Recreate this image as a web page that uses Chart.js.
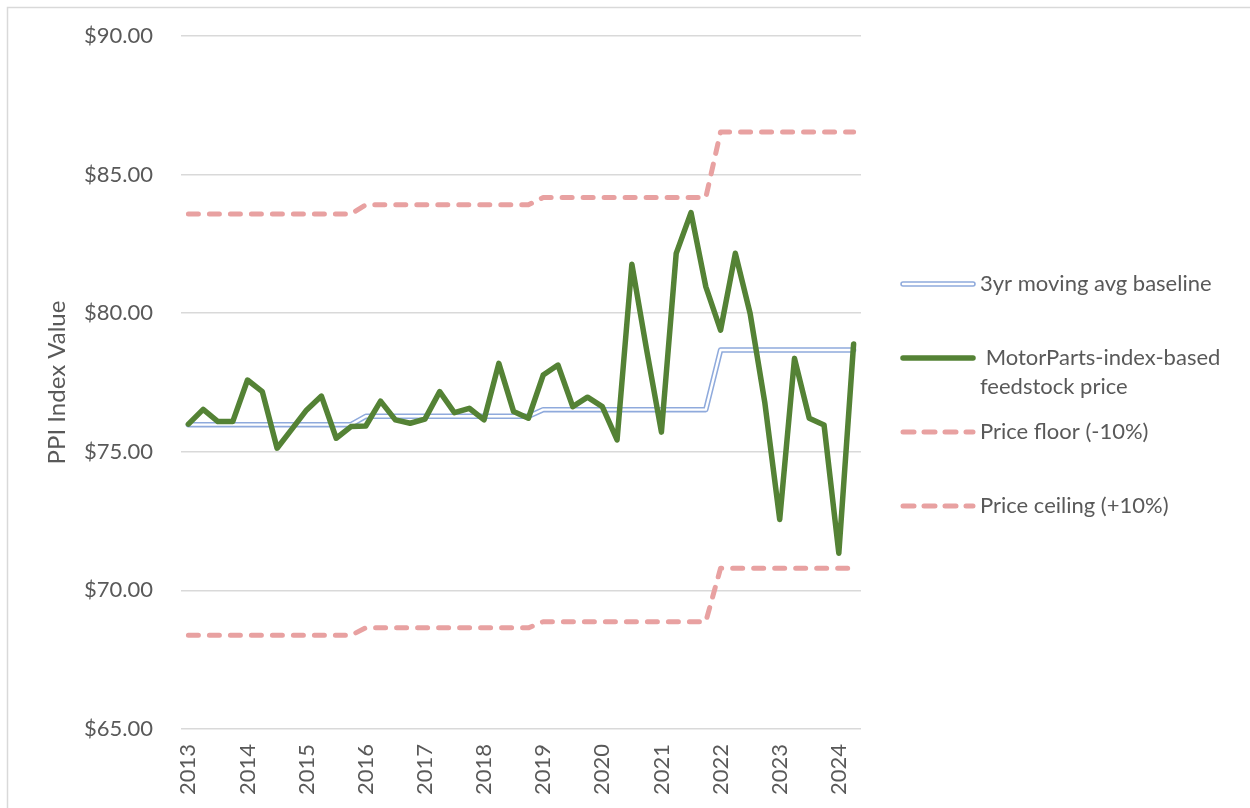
<!DOCTYPE html>
<html>
<head>
<meta charset="utf-8">
<script src="https://cdn.jsdelivr.net/npm/chart.js@4.4.1/dist/chart.umd.min.js"></script>
<style>
  html, body { margin: 0; padding: 0; background: #ffffff; }
  #wrap { position: relative; width: 1250px; height: 808px; }
  canvas { display: block; }
</style>
</head>
<body>
<div id="wrap"><canvas id="chart" width="1250" height="808"></canvas></div>
<script>
// Quarterly observations, 2013 Q1 – 2024 Q2
const quarters = [
  '2013 Q1','2013 Q2','2013 Q3','2013 Q4',
  '2014 Q1','2014 Q2','2014 Q3','2014 Q4',
  '2015 Q1','2015 Q2','2015 Q3','2015 Q4',
  '2016 Q1','2016 Q2','2016 Q3','2016 Q4',
  '2017 Q1','2017 Q2','2017 Q3','2017 Q4',
  '2018 Q1','2018 Q2','2018 Q3','2018 Q4',
  '2019 Q1','2019 Q2','2019 Q3','2019 Q4',
  '2020 Q1','2020 Q2','2020 Q3','2020 Q4',
  '2021 Q1','2021 Q2','2021 Q3','2021 Q4',
  '2022 Q1','2022 Q2','2022 Q3','2022 Q4',
  '2023 Q1','2023 Q2','2023 Q3','2023 Q4',
  '2024 Q1','2024 Q2'
];

// Year labels shown on the category axis (one per first quarter)
const yearTicks = ['2013','2014','2015','2016','2017','2018','2019','2020','2021','2022','2023','2024'];

// Value axis ticks
const yTicks = [65, 70, 75, 80, 85, 90];

// MotorParts-index-based feedstock price
const feedstockPrice = [
  76.00, 76.53, 76.09, 76.09,
  77.59, 77.17, 75.13, 75.82,
  76.51, 77.01, 75.49, 75.91,
  75.93, 76.83, 76.15, 76.03,
  76.18, 77.17, 76.41, 76.57,
  76.15, 78.19, 76.45, 76.21,
  77.77, 78.13, 76.63, 76.97,
  76.63, 75.43, 81.77, 78.67,
  75.71, 82.16, 83.63, 80.96,
  79.39, 82.16, 79.99, 76.75,
  72.56, 78.37, 76.21, 75.97,
  71.34, 78.89
];

// 3-year moving average baseline
const movingAvgBaseline = [
  75.98, 75.98, 75.98, 75.98, 75.98, 75.98, 75.98, 75.98, 75.98, 75.98, 75.98, 75.98,
  76.28, 76.28, 76.28, 76.28, 76.28, 76.28, 76.28, 76.28, 76.28, 76.28, 76.28, 76.28,
  76.52, 76.52, 76.52, 76.52, 76.52, 76.52, 76.52, 76.52, 76.52, 76.52, 76.52, 76.52,
  78.67, 78.67, 78.67, 78.67, 78.67, 78.67, 78.67, 78.67, 78.67, 78.67
];

// Price floor (-10%)
const priceFloor = [
  68.38, 68.38, 68.38, 68.38, 68.38, 68.38, 68.38, 68.38, 68.38, 68.38, 68.38, 68.38,
  68.65, 68.65, 68.65, 68.65, 68.65, 68.65, 68.65, 68.65, 68.65, 68.65, 68.65, 68.65,
  68.87, 68.87, 68.87, 68.87, 68.87, 68.87, 68.87, 68.87, 68.87, 68.87, 68.87, 68.87,
  70.80, 70.80, 70.80, 70.80, 70.80, 70.80, 70.80, 70.80, 70.80, 70.80
];

// Price ceiling (+10%)
const priceCeiling = [
  83.58, 83.58, 83.58, 83.58, 83.58, 83.58, 83.58, 83.58, 83.58, 83.58, 83.58, 83.58,
  83.91, 83.91, 83.91, 83.91, 83.91, 83.91, 83.91, 83.91, 83.91, 83.91, 83.91, 83.91,
  84.17, 84.17, 84.17, 84.17, 84.17, 84.17, 84.17, 84.17, 84.17, 84.17, 84.17, 84.17,
  86.54, 86.54, 86.54, 86.54, 86.54, 86.54, 86.54, 86.54, 86.54, 86.54
];

const TEXT = '#595959';
const GRID = '#D9D9D9';
const GREEN = '#548235';
const BLUE = '#8FAADC';
const PINK = '#E8A1A1';
const FONT = 'Lato';

// Outer frame of the chart area (only the top and left edges fall on the canvas)
const framePlugin = {
  id: 'frame',
  beforeDraw(chart) {
    const ctx = chart.ctx;
    ctx.save();
    ctx.strokeStyle = GRID;
    ctx.lineWidth = 1.5;
    ctx.strokeRect(7.5, 7.5, 2000, 2000);
    ctx.restore();
  }
};

// Legend on the right-hand side
const legendPlugin = {
  id: 'sideLegend',
  afterDraw(chart) {
    const ctx = chart.ctx;
    const x0 = 903, x1 = 973, tx = 980;
    ctx.save();
    ctx.lineCap = 'round';

    // double blue line
    let y = 284;
    ctx.strokeStyle = BLUE; ctx.lineWidth = 5.5;
    ctx.beginPath(); ctx.moveTo(x0, y); ctx.lineTo(x1, y); ctx.stroke();
    ctx.strokeStyle = '#ffffff'; ctx.lineWidth = 2.4;
    ctx.beginPath(); ctx.moveTo(x0, y); ctx.lineTo(x1, y); ctx.stroke();

    // solid green
    y = 358;
    ctx.strokeStyle = GREEN; ctx.lineWidth = 5.5;
    ctx.beginPath(); ctx.moveTo(x0, y); ctx.lineTo(x1, y); ctx.stroke();

    // dashed pink (floor and ceiling)
    ctx.strokeStyle = PINK; ctx.lineWidth = 5;
    ctx.setLineDash([11, 10]);
    [432, 506].forEach(yy => {
      ctx.beginPath(); ctx.moveTo(x0, yy); ctx.lineTo(x1, yy); ctx.stroke();
    });
    ctx.setLineDash([]);

    ctx.fillStyle = TEXT;
    ctx.font = '22px ' + FONT;
    ctx.textBaseline = 'middle';
    ctx.textAlign = 'left';
    ctx.fillText('3yr moving avg baseline', tx, 284);
    ctx.fillText(' MotorParts-index-based', tx, 358);
    ctx.fillText('feedstock price', tx, 387);
    ctx.fillText('Price floor (-10%)', tx, 432);
    ctx.fillText('Price ceiling (+10%)', tx, 506);
    ctx.restore();
  }
};

function build() {
  const ctx = document.getElementById('chart').getContext('2d');
  new Chart(ctx, {
    type: 'line',
    data: {
      labels: quarters,
      datasets: [
        {
          label: '3yr moving avg baseline',
          data: movingAvgBaseline,
          borderColor: BLUE,
          borderWidth: 5.5,
          order: 2
        },
        {
          label: '3yr moving avg baseline (inner)',
          data: movingAvgBaseline,
          borderColor: '#ffffff',
          borderWidth: 2.4,
          order: 1
        },
        {
          label: ' MotorParts-index-based feedstock price',
          data: feedstockPrice,
          borderColor: GREEN,
          borderWidth: 5.5,
          order: 0
        },
        {
          label: 'Price floor (-10%)',
          data: priceFloor,
          borderColor: PINK,
          borderWidth: 5,
          borderDash: [10, 11],
          borderCapStyle: 'round',
          order: 3
        },
        {
          label: 'Price ceiling (+10%)',
          data: priceCeiling,
          borderColor: PINK,
          borderWidth: 5,
          borderDash: [10, 11],
          borderCapStyle: 'round',
          order: 3
        }
      ]
    },
    options: {
      responsive: false,
      animation: false,
      devicePixelRatio: 1,
      layout: { padding: { left: 0, right: 389, top: 36, bottom: 0 } },
      elements: {
        point: { radius: 0, hoverRadius: 0 },
        line: { tension: 0, fill: false, borderCapStyle: 'round', borderJoinStyle: 'round' }
      },
      plugins: {
        legend: { display: false },
        tooltip: { enabled: false }
      },
      scales: {
        x: {
          type: 'category',
          offset: true,
          grid: { display: false, drawTicks: false },
          border: { display: false },
          afterFit(scale) { scale.height = 79; },
          ticks: {
            autoSkip: false,
            minRotation: 90,
            maxRotation: 90,
            padding: 15,
            color: TEXT,
            font: { family: FONT, size: 22 },
            callback(value, index) {
              return index % 4 === 0 ? yearTicks[index / 4] : '';
            }
          }
        },
        y: {
          min: yTicks[0],
          max: yTicks[yTicks.length - 1],
          afterFit(scale) {
            scale.width = 181;
            scale.paddingTop = 0;
            scale.paddingBottom = 0;
          },
          afterBuildTicks(scale) { scale.ticks = yTicks.map(v => ({ value: v })); },
          grid: { color: GRID, lineWidth: 1.5, drawTicks: false },
          border: { display: false },
          ticks: {
            padding: 28,
            color: TEXT,
            font: { family: FONT, size: 22 },
            callback(value) { return '$' + Number(value).toFixed(2); }
          },
          title: {
            display: true,
            text: 'PPI Index Value',
            color: TEXT,
            font: { family: FONT, size: 24 },
            padding: { top: 43, bottom: 0 }
          }
        }
      }
    },
    plugins: [framePlugin, legendPlugin]
  });
}

if (document.fonts && document.fonts.load) {
  document.fonts.load('22px ' + FONT).then(build, build);
} else {
  build();
}
</script>
</body>
</html>
